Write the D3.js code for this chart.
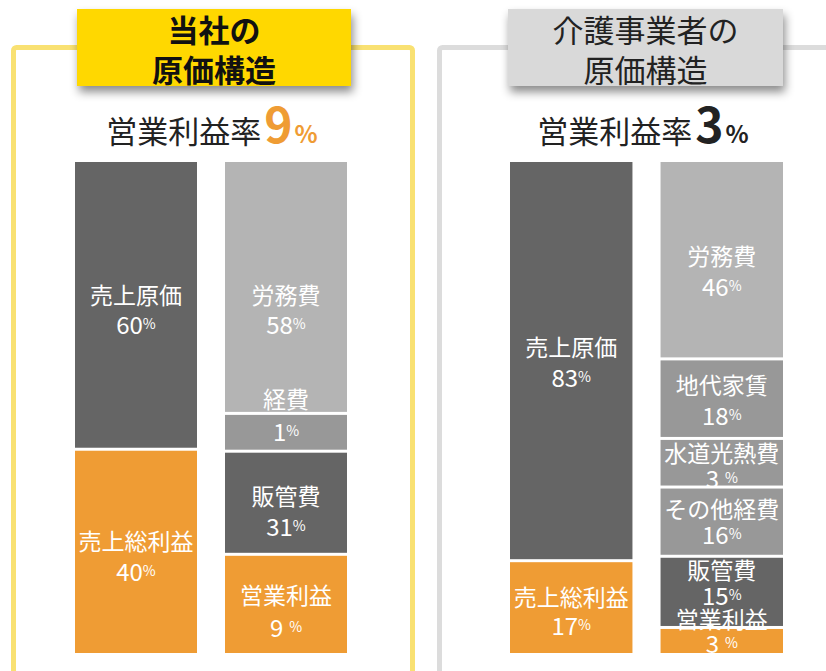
<!DOCTYPE html>
<html>
<head>
<meta charset="utf-8">
<script src="https://cdn.jsdelivr.net/npm/d3@7"></script>
<style>
  html, body { margin: 0; padding: 0; background: #fff; }
  svg { display: block; font-family: "Noto Sans CJK JP", "Noto Sans", sans-serif; }
</style>
</head>
<body>
<svg id="chart" width="826" height="671"></svg>
<script>
// ---------------- DATA ----------------
const panelTitles = [["当社の", "原価構造"], ["介護事業者の", "原価構造"]];
const marginLabel = "営業利益率";
const marginValues = [9, 3];

// 当社: left bar (sales split) and right bar (cost breakdown)
const ourGrossNames = ["売上原価", "売上総利益"];
const ourGrossValues = [60, 40];
const ourGrossShare = [58.5, 41.5];          // share of bar height as drawn in the picture
const ourCostNames = ["労務費", "経費", "販管費", "営業利益"];
const ourCostValues = [58, 1, 31, 9];
const ourCostShare = [51.2, 7.7, 21.0, 20.1];

// 介護事業者
const careGrossNames = ["売上原価", "売上総利益"];
const careGrossValues = [83, 17];
const careGrossShare = [81.2, 18.8];
const careCostNames = ["労務費", "地代家賃", "水道光熱費", "その他経費", "販管費", "営業利益"];
const careCostValues = [46, 18, 3, 16, 15, 3];
const careCostShare = [40.1, 16.2, 9.9, 14.1, 14.5, 5.2];

// ---------------- STYLE / LAYOUT ----------------
const C = {
  dark: "#656565", light: "#b4b4b4", mid: "#989898", orange: "#ef9c34",
  yellow: "#ffd800", grey: "#d9d9d9", frameY: "#f9e172", frameG: "#dcdcdc"
};
const segColors = {
  "売上原価": C.dark, "売上総利益": C.orange, "労務費": C.light, "経費": C.mid,
  "販管費": C.dark, "営業利益": C.orange, "地代家賃": C.mid, "水道光熱費": C.mid, "その他経費": C.mid
};

const panels = [
  {
    xRange: [75, 347], center: 212, frame: {x: 13.5, y: 47.5, w: 399, h: 626, color: C.frameY},
    box: {x: 77, w: 274, fill: C.yellow, weight: 700, color: "#111"},
    marginColor: C.orange,
    bars: [
      {names: ourGrossNames, values: ourGrossValues, share: ourGrossShare,
       lab: [[2.5, 29], [3.5, 30]]},
      {names: ourCostNames, values: ourCostValues, share: ourCostShare,
       lab: [[20.5, 29], [-18.5, 32], [7.5, 30], [6.5, 32]], spaced: [false, false, false, true]}
    ]
  },
  {
    xRange: [510, 783], center: 643, frame: {x: 439.5, y: 47.5, w: 600, h: 700, color: C.frameG},
    box: {x: 508, w: 275, fill: C.grey, weight: 400, color: "#222"},
    marginColor: "#222",
    bars: [
      {names: careGrossNames, values: careGrossValues, share: careGrossShare,
       lab: [[0, 30], [3.5, 28]]},
      {names: careCostNames, values: careCostValues, share: careCostShare,
       lab: [[10, 30], [0, 30], [1.5, 25], [-1, 25], [-10, 25], [-10.5, 24]],
       spaced: [false, false, true, false, false, true]}
    ]
  }
];

const svg = d3.select("#chart");
const defs = svg.append("defs");
const f = defs.append("filter").attr("id", "shadow")
  .attr("x", "-20%").attr("y", "-30%").attr("width", "140%").attr("height", "170%");
f.append("feDropShadow").attr("dx", 2).attr("dy", 6).attr("stdDeviation", 5)
  .attr("flood-color", "#000").attr("flood-opacity", 0.45);

const y = d3.scaleLinear().domain([0, 100]).range([162, 653]);
const gap = 3;

panels.forEach((p, pi) => {
  const g = svg.append("g");
  // frame
  g.append("rect")
    .attr("x", p.frame.x).attr("y", p.frame.y).attr("width", p.frame.w).attr("height", p.frame.h)
    .attr("rx", 3).attr("fill", "none").attr("stroke", p.frame.color).attr("stroke-width", 5);

  // title box
  g.append("rect")
    .attr("x", p.box.x).attr("y", 9).attr("width", p.box.w).attr("height", 77)
    .attr("fill", p.box.fill).attr("filter", "url(#shadow)");
  const bx = p.box.x + p.box.w / 2;
  panelTitles[pi].forEach((line, li) => {
    g.append("text")
      .attr("x", bx).attr("y", 28 + li * 40)
      .attr("text-anchor", "middle").attr("dominant-baseline", "central")
      .attr("font-size", 31).attr("font-weight", p.box.weight).attr("fill", p.box.color)
      .text(line);
  });

  // margin subtitle
  const st = g.append("text")
    .attr("x", p.center).attr("y", 143)
    .attr("text-anchor", "middle").attr("fill", "#222");
  st.append("tspan").attr("font-size", 31).attr("font-weight", 400).text(marginLabel);
  st.append("tspan").attr("font-size", 48).attr("font-weight", 700).attr("fill", p.marginColor)
    .attr("dx", 3).text(marginValues[pi]);
  st.append("tspan").attr("font-size", 24).attr("font-weight", 700).attr("fill", p.marginColor)
    .attr("dx", 2).text("%");

  // bars
  const x = d3.scaleBand().domain(p.bars.map((b, i) => i)).range(p.xRange)
    .paddingInner(28 / 150).paddingOuter(0);

  p.bars.forEach((b, bi) => {
    const stack = d3.stack().keys(b.names.map((n, i) => i))([
      Object.fromEntries(b.share.map((s, i) => [i, s]))
    ]);
    const segs = stack.map((s, i) => ({
      name: b.names[i], value: b.values[i], y0: s[0][0], y1: s[0][1], i,
      last: i === b.names.length - 1
    }));
    const bg = g.append("g");
    bg.selectAll("rect").data(segs).join("rect")
      .attr("x", x(bi)).attr("width", x.bandwidth())
      .attr("y", d => y(d.y0) + (d.i === 0 ? 0 : gap / 2))
      .attr("height", d => y(d.y1) - y(d.y0) - (d.i === 0 ? 0 : gap / 2) - (d.last ? 0 : gap / 2))
      .attr("fill", d => segColors[d.name]);

    const cx = x(bi) + x.bandwidth() / 2;
    segs.forEach(d => {
      const [nudge, lg] = b.lab[d.i];
      const mid = (y(d.y0) + y(d.y1)) / 2 + nudge;
      bg.append("text")
        .attr("x", cx).attr("y", mid - lg / 2)
        .attr("text-anchor", "middle").attr("dominant-baseline", "central")
        .attr("font-size", 23).attr("fill", "#fff")
        .text(d.name);
      const vt = bg.append("text")
        .attr("x", cx).attr("y", mid + lg / 2)
        .attr("text-anchor", "middle").attr("dominant-baseline", "central")
        .attr("fill", "#fff");
      vt.append("tspan").attr("font-size", 24).text(d.value);
      vt.append("tspan").attr("font-size", 14)
        .attr("dx", b.spaced && b.spaced[d.i] ? 6 : 0).text("%");
    });
  });
});
</script>
</body>
</html>
